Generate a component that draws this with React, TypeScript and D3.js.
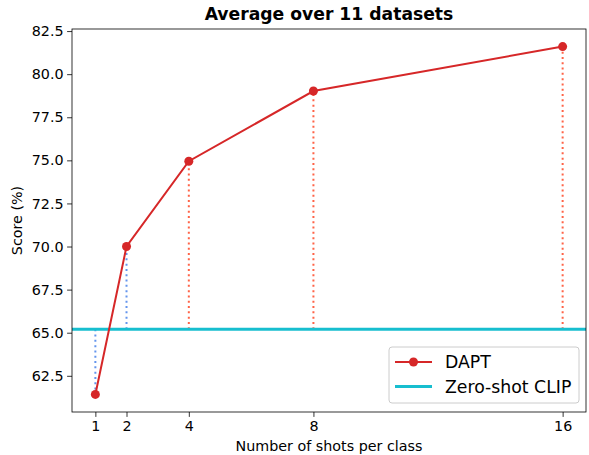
import React, { useEffect, useRef } from 'react';
import * as d3 from 'd3';

const shots = [1, 2, 4, 8, 16];
const daptScores = [61.42, 70.0, 74.95, 79.02, 81.6];
const zeroShotScore = 65.2;
const yTicks = [62.5, 65.0, 67.5, 70.0, 72.5, 75.0, 77.5, 80.0, 82.5];
const legendLabels = ['DAPT', 'Zero-shot CLIP'];

const App: React.FC = () => {
  const svgRef = useRef<SVGSVGElement | null>(null);

  useEffect(() => {
    if (!svgRef.current) return;
    const svg = d3.select(svgRef.current);
    svg.selectAll('*').remove();

    const width = 589;
    const height = 455;
    const margin = { top: 29, right: 3, bottom: 43, left: 72 };
    const font = 'DejaVu Sans, sans-serif';

    const x = d3.scaleLinear().domain([0.25, 16.75]).range([margin.left, width - margin.right]);
    const y = d3.scaleLinear().domain([60.4, 82.62]).range([height - margin.bottom, margin.top]);

    // Axes
    const xAxis = svg.append('g')
      .attr('transform', `translate(0,${height - margin.bottom})`)
      .call(d3.axisBottom(x).tickValues(shots).tickFormat(d3.format('d')).tickSize(4.9).tickPadding(3.5));
    const yAxis = svg.append('g')
      .attr('transform', `translate(${margin.left},0)`)
      .call(d3.axisLeft(y).tickValues(yTicks).tickFormat(d3.format('.1f')).tickSize(4.9).tickPadding(3.5));
    [xAxis, yAxis].forEach(g => {
      g.select('.domain').remove();
      g.selectAll('line').attr('stroke', '#000').attr('stroke-width', 0.8);
      g.selectAll('text').attr('font-family', font).attr('font-size', 14.3).attr('fill', '#000');
    });

    // Drop lines from the zero-shot baseline to each point
    shots.forEach((s, i) => {
      svg.append('line')
        .attr('x1', x(s)).attr('x2', x(s))
        .attr('y1', y(zeroShotScore)).attr('y2', y(daptScores[i]))
        .attr('stroke', i < 2 ? '#6495ed' : '#ff6347')
        .attr('stroke-width', 2)
        .attr('stroke-dasharray', '2,3.3');
    });

    // Zero-shot CLIP baseline
    svg.append('line')
      .attr('x1', margin.left).attr('x2', width - margin.right)
      .attr('y1', y(zeroShotScore)).attr('y2', y(zeroShotScore))
      .attr('stroke', '#17becf').attr('stroke-width', 3);

    // DAPT line
    const line = d3.line<number>().x((_, i) => x(shots[i])).y(d => y(d));
    svg.append('path')
      .datum(daptScores)
      .attr('d', line)
      .attr('fill', 'none')
      .attr('stroke', '#d62728')
      .attr('stroke-width', 2);
    svg.selectAll('circle.pt')
      .data(daptScores)
      .enter().append('circle')
      .attr('class', 'pt')
      .attr('cx', (_, i) => x(shots[i]))
      .attr('cy', d => y(d))
      .attr('r', 4.5)
      .attr('fill', '#d62728');

    // Frame
    svg.append('rect')
      .attr('x', margin.left).attr('y', margin.top)
      .attr('width', width - margin.left - margin.right)
      .attr('height', height - margin.top - margin.bottom)
      .attr('fill', 'none').attr('stroke', '#000').attr('stroke-width', 0.8);

    // Title and axis labels
    svg.append('text')
      .attr('x', (margin.left + width - margin.right) / 2).attr('y', 19.5)
      .attr('text-anchor', 'middle').attr('font-family', font)
      .attr('font-size', 17.2).attr('font-weight', 'bold')
      .text('Average over 11 datasets');
    svg.append('text')
      .attr('x', (margin.left + width - margin.right) / 2).attr('y', 451)
      .attr('text-anchor', 'middle').attr('font-family', font).attr('font-size', 14.3)
      .text('Number of shots per class');
    svg.append('text')
      .attr('transform', 'rotate(-90)')
      .attr('x', -(margin.top + height - margin.bottom) / 2).attr('y', 22)
      .attr('text-anchor', 'middle').attr('font-family', font).attr('font-size', 14.3)
      .text('Score (%)');

    // Legend
    const lg = svg.append('g').attr('transform', 'translate(389,347)');
    lg.append('rect')
      .attr('width', 190).attr('height', 56).attr('rx', 3)
      .attr('fill', '#fff').attr('fill-opacity', 0.8)
      .attr('stroke', '#ccc').attr('stroke-width', 1);
    legendLabels.forEach((label, i) => {
      const cy = 15 + i * 24.5;
      lg.append('line')
        .attr('x1', 6).attr('x2', 43).attr('y1', cy).attr('y2', cy)
        .attr('stroke', i === 0 ? '#d62728' : '#17becf')
        .attr('stroke-width', i === 0 ? 2 : 3);
      if (i === 0) {
        lg.append('circle').attr('cx', 24.5).attr('cy', cy).attr('r', 4.5).attr('fill', '#d62728');
      }
      lg.append('text')
        .attr('x', 56).attr('y', cy + 6)
        .attr('font-family', font).attr('font-size', 17.3)
        .text(label);
    });
  }, []);

  return (
    <svg
      ref={svgRef}
      width={589}
      height={455}
      style={{ position: 'absolute', left: 0, top: 0, display: 'block' }}
    />
  );
};

export default App;
